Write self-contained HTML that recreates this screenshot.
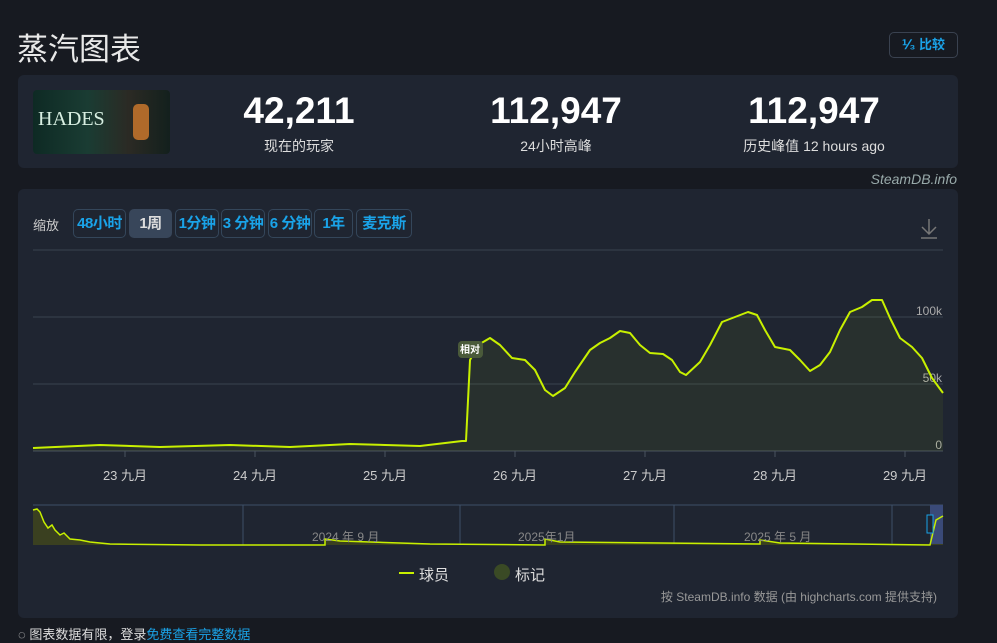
<!DOCTYPE html><html><head><meta charset="utf-8"><style>
body{margin:0;width:997px;height:635px;background:#171a21;font-family:"Liberation Sans","Noto Sans CJK SC",sans-serif;color:#ddd;position:relative;overflow:hidden}
.a{position:absolute}
.card{position:absolute;background:#1f2531;border-radius:6px}
.num{position:absolute;width:260px;text-align:center;font-weight:bold;font-size:37px;color:#fff;top:90px}
.lab{position:absolute;width:260px;text-align:center;font-size:14px;color:#ddd;top:136px}
.btn{position:absolute;top:209px;height:27px;border:1px solid #34465a;border-radius:5px;color:#1aa3e8;font-weight:bold;font-size:15px;line-height:27px;text-align:center;white-space:nowrap;overflow:hidden;letter-spacing:-0.5px}
.t{font-size:13px;color:#ccc;position:absolute;top:465px;width:60px;text-align:center}
</style></head><body>
<div class="a" style="left:17px;top:24px;font-size:31px;color:#e8e8e8">蒸汽图表</div>
<div class="a" style="left:889px;top:32px;width:67px;height:24px;border:1px solid #3a4250;border-radius:5px;color:#1aa3e8;font-size:13px;font-weight:bold;line-height:24px;text-align:center">⅟₃ 比较</div>
<div class="card" style="left:18px;top:75px;width:940px;height:93px"></div>
<div class="a" style="left:33px;top:90px;width:137px;height:64px;border-radius:4px;background:linear-gradient(90deg,#0e2a24,#1a3c33 40%,#2b2a24 70%,#13201d);overflow:hidden"><div style="position:absolute;left:5px;top:18px;font-family:'Liberation Serif',serif;font-size:20px;color:#d8efe2">HADES</div><div style="position:absolute;left:100px;top:14px;width:16px;height:36px;background:#b06a2a;border-radius:5px"></div></div>
<div class="num" style="left:169px">42,211</div><div class="lab" style="left:169px">现在的玩家</div>
<div class="num" style="left:426px">112,947</div><div class="lab" style="left:426px">24小时高峰</div>
<div class="num" style="left:684px">112,947</div><div class="lab" style="left:684px">历史峰值 12 hours ago</div>
<div class="a" style="right:40px;top:171px;font-size:14px;font-style:italic;color:#9aa">SteamDB.info</div>
<div class="card" style="left:18px;top:189px;width:940px;height:429px"></div>
<div class="a" style="left:33px;top:215px;font-size:13px;color:#ccc">缩放</div>
<div class="btn" style="left:73px;width:51px">48小时</div>
<div class="btn" style="left:129px;width:41px;background:#38465a;border-color:#38465a;color:#ddd">1周</div>
<div class="btn" style="left:175px;width:42px">1分钟</div>
<div class="btn" style="left:221px;width:42px">3 分钟</div>
<div class="btn" style="left:268px;width:42px">6 分钟</div>
<div class="btn" style="left:314px;width:37px">1年</div>
<div class="btn" style="left:356px;width:54px">麦克斯</div>
<svg class="a" style="left:0;top:0" width="997" height="635">
<path d="M929 219v15M922 227l7 7 7-7M921 238h16" stroke="#777" stroke-width="1.5" fill="none"/>
<line x1="33" y1="250" x2="943" y2="250" stroke="#3a4250"/>
<line x1="33" y1="317" x2="943" y2="317" stroke="#3a4250"/>
<line x1="33" y1="384" x2="943" y2="384" stroke="#3a4250"/>
<line x1="33" y1="451" x2="943" y2="451" stroke="#4a5260"/>
<g stroke="#4a5260"><line x1="125" y1="451" x2="125" y2="457"/><line x1="255" y1="451" x2="255" y2="457"/><line x1="385" y1="451" x2="385" y2="457"/><line x1="515" y1="451" x2="515" y2="457"/><line x1="645" y1="451" x2="645" y2="457"/><line x1="775" y1="451" x2="775" y2="457"/><line x1="905" y1="451" x2="905" y2="457"/></g>
<g font-size="12" fill="#aaa" text-anchor="end" font-family="Liberation Sans"><text x="942" y="315">100k</text><text x="942" y="382">50k</text><text x="942" y="449">0</text></g>
<polygon fill="rgba(190,230,0,0.06)" points="33,451 33,448 100,445 160,447 230,445 290,447 350,444 420,446 462,441 466,441 470,360 478,345 490,338 500,345 512,358 525,360 535,370 545,390 553,396 565,388 575,372 590,350 600,343 610,338 620,331 630,333 640,345 650,353 663,354 672,360 680,372 686,375 700,362 710,345 722,322 735,317 748,312 757,315 765,330 775,347 790,350 800,360 810,371 820,365 830,352 840,330 850,312 862,307 872,300 882,300 890,318 900,338 912,347 922,358 932,378 943,393 943,451"/>
<polyline fill="none" stroke="#c8f000" stroke-width="2" stroke-linejoin="round" points="33,448 100,445 160,447 230,445 290,447 350,444 420,446 462,441 466,441 470,360 478,345 490,338 500,345 512,358 525,360 535,370 545,390 553,396 565,388 575,372 590,350 600,343 610,338 620,331 630,333 640,345 650,353 663,354 672,360 680,372 686,375 700,362 710,345 722,322 735,317 748,312 757,315 765,330 775,347 790,350 800,360 810,371 820,365 830,352 840,330 850,312 862,307 872,300 882,300 890,318 900,338 912,347 922,358 932,378 943,393"/>
<rect x="458" y="341" width="25" height="17" rx="4" fill="#4a5a3a"/><text x="470" y="353" font-size="10" fill="#fff" text-anchor="middle" font-weight="bold">相对</text>
<line x1="33" y1="505" x2="943" y2="505" stroke="#3e5068"/>
<g stroke="#3e5068"><line x1="243" y1="505" x2="243" y2="545"/><line x1="460" y1="505" x2="460" y2="545"/><line x1="674" y1="505" x2="674" y2="545"/><line x1="892" y1="505" x2="892" y2="545"/></g>
<rect x="930" y="505" width="13" height="40" fill="#3a4a78"/>
<polygon fill="#3a4020" points="33,545 33,510 37,509 40,512 44,522 48,528 52,525 55,530 60,535 64,533 70,539 80,540 90,542 110,544 200,545 325,545 325,539 340,541 430,544 545,545 545,539 560,542 760,544 760,540 780,543 943,544 943,545"/>
<polyline fill="none" stroke="#c8f000" stroke-width="1.5" points="33,510 37,509 40,512 44,522 48,528 52,525 55,530 60,535 64,533 70,539 80,540 90,542 110,544 200,545 325,545 325,539 340,541 430,544 545,545 545,539 560,542 760,544 760,540 780,543 930,545 936,520 943,516"/>
<g font-size="12" fill="#888"><text x="312" y="541">2024 年 9 月</text><text x="518" y="541">2025年1月</text><text x="744" y="541">2025 年 5 月</text></g>
<rect x="927" y="515" width="6" height="18" fill="#1f2531" stroke="#1aa3e8"/>
<line x1="399" y1="573" x2="414" y2="573" stroke="#c8f000" stroke-width="2"/>
<circle cx="502" cy="572" r="8" fill="#3a4a25"/>
</svg>
<div class="t" style="left:95px">23 九月</div><div class="t" style="left:225px">24 九月</div><div class="t" style="left:355px">25 九月</div><div class="t" style="left:485px">26 九月</div><div class="t" style="left:615px">27 九月</div><div class="t" style="left:745px">28 九月</div><div class="t" style="left:875px">29 九月</div>
<div class="a" style="left:419px;top:564px;font-size:15px;color:#ddd">球员</div>
<div class="a" style="left:515px;top:564px;font-size:15px;color:#ddd">标记</div>
<div class="a" style="right:60px;top:588px;font-size:12px;color:#999">按 SteamDB.info 数据 (由 highcharts.com 提供支持)</div>
<div class="a" style="left:18px;top:624px;font-size:13px;color:#ddd">◌ 图表数据有限，登录<span style="color:#1aa3e8">免费查看完整数据</span></div>
</body></html>
